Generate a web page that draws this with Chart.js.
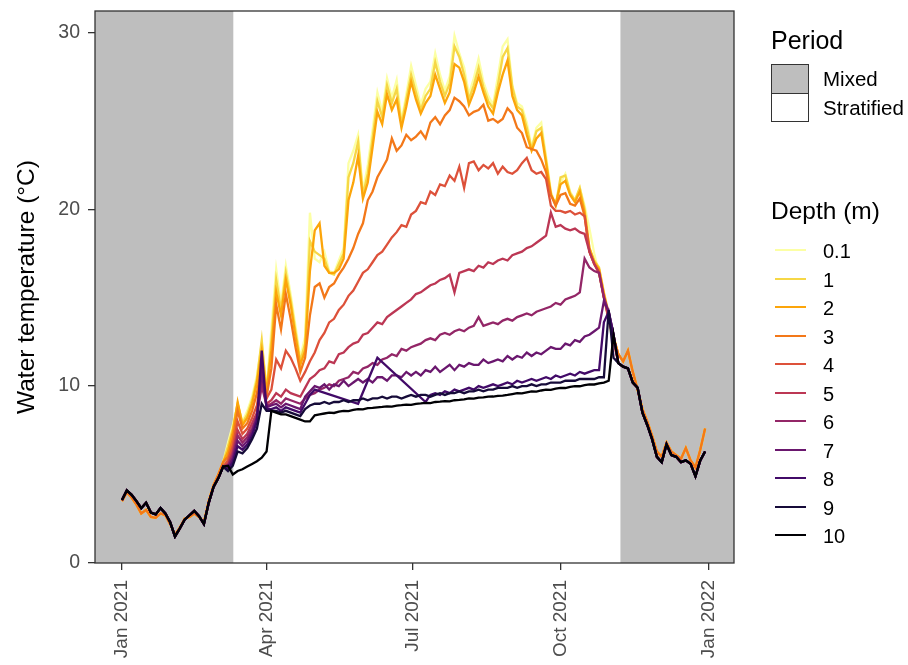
<!DOCTYPE html>
<html>
<head>
<meta charset="utf-8">
<script src="https://cdn.jsdelivr.net/npm/chart.js@4.4.1/dist/chart.umd.min.js"></script>
<style>
  html, body { margin: 0; padding: 0; background: #fff; }
  #wrap { position: relative; width: 908px; height: 665px; font-family: "Liberation Sans", Arial, Helvetica, sans-serif; }
  #chart { position: absolute; left: 0; top: 0; }
  .lg { position: absolute; color: #000; white-space: nowrap; line-height: 1; transform: translateY(-50%); }
  .key { position: absolute; box-sizing: border-box; }
</style>
</head>
<body>
<div id="wrap">
  <canvas id="chart" width="908" height="665"></canvas>
  <div id="legend"></div>
</div>
<script>
// depth series, legend and axis data
const depthLabels = ['0.1', '1', '2', '3', '4', '5', '6', '7', '8', '9', '10'];
const depthColours = ['#FCFFA4', '#F6D746', '#FCA50A', '#F37819', '#DD513A', '#BC3754',
                      '#932667', '#6A176E', '#420A68', '#160B39', '#000004'];
const tickDays = [0, 90, 181, 273, 365];
const tickLabels = ['Jan 2021', 'Apr 2021', 'Jul 2021', 'Oct 2021', 'Jan 2022'];
const yTicks = [0, 10, 20, 30];
const periodLabels = ['Mixed', 'Stratified'];
// mixed periods in days since 1 Jan 2021
const mixedPeriods = [[-17, 69.3], [310.3, 382]];

// readings every 3 days: days 0-63 (winter), 66-306 (stratified), 309-363 (autumn)
const winterSurface = [3.5, 4.0, 3.7, 3.3, 2.8, 3.0, 2.6, 2.55, 2.8, 2.7, 2.2, 1.6, 2.0, 2.5, 2.6, 2.8, 2.6, 2.3, 3.5, 4.4, 5.0, 5.7];
const winterDeep = [3.56, 4.1, 3.85, 3.5, 3.1, 3.4, 2.85, 2.75, 3.1, 2.8, 2.3, 1.5, 1.95, 2.45, 2.7, 2.95, 2.65, 2.2, 3.4, 4.3, 4.8, 5.45];
const autumnSurface = [11.8, 11.4, 12.0, 10.8, 9.8, 8.7, 8.0, 7.2, 6.3, 6.0, 6.8, 6.3, 6.1, 5.9, 6.5, 5.8, 5.4, 6.4, 7.6];
const autumnDeep = [11.3, 11.1, 11.0, 10.2, 9.9, 8.5, 7.8, 7.0, 6.0, 5.7, 6.7, 6.1, 6.0, 5.7, 5.8, 5.6, 4.9, 5.8, 6.3];

const strat01 = [6.8, 7.8, 9.0, 8.0, 8.6, 9.4, 10.6, 12.4, 9.8, 13.2,
  16.6, 14.6, 16.8, 15.2, 13.4, 11.6, 12.8, 19.8, 17.2, 17.0,
  17.6, 16.5, 16.4, 17.1, 17.8, 22.6, 23.3, 24.2, 21.0, 22.5,
  24.5, 26.6, 25.5, 27.4, 26.3, 27.3, 25.0, 26.5, 28.1, 27.0,
  25.9, 26.8, 27.2, 28.8, 27.6, 26.7, 27.5, 29.8, 28.8, 28.0,
  26.5, 27.4, 28.5, 27.2, 26.4, 25.9, 27.5, 29.2, 29.6, 27.0,
  26.0, 25.8, 24.9, 23.5, 24.6, 24.9, 23.0, 21.0, 20.2, 21.5,
  22.0, 21.0, 20.5, 21.2, 20.2, 18.9, 17.5, 16.3, 15.0, 13.6,
  12.4];
const strat1 = [6.6, 7.6, 9.0, 7.9, 8.4, 9.2, 10.4, 12.6, 9.7, 12.6,
  16.0, 14.3, 16.4, 14.9, 13.1, 11.4, 12.4, 18.2, 17.6, 17.4,
  17.2, 16.4, 16.3, 16.9, 17.5, 21.8, 22.6, 23.8, 20.8, 22.0,
  24.0, 26.1, 25.2, 27.0, 26.0, 26.8, 24.8, 26.2, 27.6, 26.6,
  25.6, 26.4, 26.8, 28.3, 27.2, 26.4, 27.1, 29.2, 28.6, 27.6,
  26.2, 27.0, 28.0, 26.9, 26.1, 25.7, 27.0, 28.6, 29.1, 26.9,
  25.8, 25.6, 24.6, 23.4, 24.4, 24.6, 22.8, 20.9, 20.2, 21.8,
  21.9, 20.9, 20.5, 21.2, 20.0, 17.8, 17.1, 16.7, 15.3, 14.1,
  12.8];
const strat2 = [6.3, 7.4, 9.1, 7.8, 8.2, 9.0, 10.2, 12.0, 9.6, 12.0,
  15.3, 14.0, 16.0, 14.6, 12.8, 11.2, 12.0, 16.5, 18.8, 19.2,
  16.8, 16.4, 16.4, 16.6, 17.2, 20.5, 21.5, 23.0, 20.6, 21.5,
  23.5, 25.5, 24.8, 26.5, 25.6, 26.2, 24.6, 25.8, 27.2, 26.2,
  25.4, 26.0, 26.4, 27.6, 26.8, 26.0, 26.6, 28.2, 28.0, 27.2,
  25.9, 26.6, 27.5, 26.6, 25.8, 25.4, 26.6, 27.6, 28.4, 26.4,
  25.6, 25.3, 24.2, 23.3, 24.0, 24.3, 22.6, 20.8, 20.3, 21.4,
  21.6, 20.8, 20.4, 21.0, 19.8, 17.8, 17.0, 16.6, 15.2, 14.0,
  12.8];
const strat3 = [6.0, 7.0, 8.6, 7.6, 7.9, 8.6, 9.6, 11.2, 9.4, 11.0,
  14.6, 13.2, 15.2, 13.8, 12.2, 10.8, 11.6, 14.0, 15.6, 15.8,
  15.0, 15.6, 15.8, 16.3, 16.7, 17.2, 17.8, 18.6, 19.2, 20.5,
  21.0, 21.8, 22.3, 22.8, 24.0, 23.3, 23.6, 24.2, 23.9, 24.1,
  24.4, 24.0, 24.9, 25.2, 24.8, 25.3, 25.6, 26.3, 26.1, 25.8,
  25.3, 25.5, 25.6, 25.9, 25.0, 25.1, 24.9, 25.1, 25.7, 25.4,
  24.6, 24.3, 23.5, 23.4, 23.3, 22.8, 22.1, 20.8, 20.2, 20.8,
  20.9, 20.3, 20.2, 20.6, 19.6, 17.6, 16.9, 16.5, 15.1, 13.9,
  12.7];
const strat4 = [5.8, 6.6, 8.0, 7.3, 7.6, 8.2, 8.9, 10.6, 9.3, 9.8,
  11.5, 11.0, 12.0, 11.6, 11.0, 10.3, 10.8, 11.4, 11.9, 12.6,
  13.0, 13.6, 13.8, 14.3, 14.6, 15.1, 15.4, 15.9, 16.4, 16.6,
  17.0, 17.4, 17.6, 18.0, 18.4, 18.7, 19.1, 19.0, 19.7, 19.9,
  20.4, 20.3, 21.0, 20.8, 21.4, 21.3, 21.9, 21.6, 22.4, 21.2,
  22.6, 22.7, 22.2, 22.5, 22.3, 22.6, 22.0, 22.4, 22.1, 22.0,
  22.2, 22.6, 22.9, 22.2, 22.0, 22.1, 21.7, 20.2, 19.9, 19.9,
  19.8, 19.9, 19.7, 19.8, 19.6, 17.6, 16.9, 16.4, 15.0, 13.8,
  12.6];
const strat5 = [5.6, 6.3, 7.5, 7.0, 7.3, 7.9, 8.5, 10.2, 9.0, 9.2,
  9.6, 9.4, 9.8, 9.6, 9.5, 9.4, 9.9, 10.4, 10.6, 10.9,
  11.0, 11.4, 11.3, 11.8, 11.9, 12.2, 12.4, 12.5, 12.9, 13.0,
  13.3, 13.6, 13.5, 13.9, 14.1, 14.3, 14.5, 14.7, 14.9, 15.2,
  15.3, 15.5, 15.7, 15.8, 16.0, 16.1, 16.3, 15.3, 16.4, 16.5,
  16.6, 16.5, 16.8, 16.7, 17.0, 16.9, 17.1, 17.2, 17.1, 17.4,
  17.5, 17.6, 17.8, 17.9, 18.1, 18.3, 18.5, 19.8, 19.0, 19.1,
  18.9, 18.8, 18.9, 18.7, 18.6, 17.6, 16.9, 16.4, 15.0, 13.8,
  12.6];
const strat6 = [5.5, 6.1, 7.2, 6.8, 7.1, 7.6, 8.3, 10.0, 8.9, 9.0,
  9.2, 9.0, 9.3, 9.2, 9.1, 9.0, 9.3, 9.5, 9.6, 9.8,
  9.9, 10.1, 10.0, 10.3, 10.4, 10.5, 10.8, 10.7, 11.0, 11.1,
  11.3, 11.2, 11.5, 11.6, 11.8, 11.7, 12.1, 12.0, 12.2, 12.3,
  12.4, 12.6, 12.7, 12.6, 12.9, 13.0, 12.9, 13.1, 13.2, 13.1,
  13.3, 13.4, 13.9, 13.4, 13.5, 13.6, 13.5, 13.7, 13.8, 13.7,
  13.9, 14.0, 14.1, 14.0, 14.2, 14.3, 14.4, 14.5, 14.7, 14.6,
  14.9, 15.0, 15.1, 15.3, 17.2, 16.7, 16.5, 16.4, 15.0, 14.2,
  12.9];
const strat7 = [5.4, 5.9, 6.9, 6.6, 6.9, 7.4, 8.2, 10.8, 8.8, 8.9,
  9.0, 8.8, 9.0, 8.9, 8.8, 8.7, 9.4, 9.7, 10.0, 9.9,
  10.1, 9.8, 10.1, 10.0, 10.3, 10.0, 10.2, 10.4, 10.2, 10.4,
  10.2, 10.5, 10.5, 10.3, 10.6, 10.6, 10.5, 10.8, 10.6, 10.8,
  10.6, 10.9, 10.8, 11.1, 10.8, 11.0, 11.2, 10.9, 11.2, 11.1,
  11.3, 11.2, 11.2, 11.5, 11.3, 11.4, 11.5, 11.4, 11.7, 11.5,
  11.7, 11.6, 11.9, 11.7, 11.9, 11.8, 12.0, 12.2, 12.1, 12.1,
  12.4, 12.3, 12.6, 12.5, 12.8, 12.9, 13.1, 13.3, 14.8, 14.2,
  12.9];
// depth 8 logger has gaps, the line is drawn straight across them
const strat8 = [5.3, 5.7, 6.6, 6.4, 6.7, 7.2, 8.0, 12.0, 8.7, 8.7,
  8.8, 8.6, 8.8, 8.7, 8.6, 8.5, 9.0, 9.5, 9.8, null,
  null, null, null, null, null, null, null, 9.0, null, null,
  null, 11.6, null, null, null, null, null, null, null, null,
  null, 9.1, 9.5, 9.6, 9.5, 9.7, 9.6, 9.8, 9.7, 9.8,
  9.9, 9.8, 10.0, 9.9, 10.0, 10.1, 10.0, 10.1, 10.2, 10.1,
  10.3, 10.2, 10.3, 10.4, 10.3, 10.4, 10.5, 10.4, 10.6, 10.5,
  10.6, 10.7, 10.6, 10.8, 10.7, 10.8, 10.9, 10.9, 13.6, 14.2,
  12.9];
const strat9 = [5.2, 5.5, 6.3, 6.2, 6.5, 7.0, 7.6, 9.0, 8.6, 8.6,
  8.6, 8.5, 8.6, 8.5, 8.4, 8.3, 8.7, 8.9, 9.0, 9.0,
  9.1, 9.0, 9.1, 9.1, 9.2, 9.1, 9.2, 9.2, 9.3, 9.2,
  9.3, 9.3, 9.4, 9.3, 9.4, 9.4, 9.3, 9.4, 9.5, 9.4,
  9.5, 9.5, 9.4, 9.5, 9.6, 9.5, 9.6, 9.6, 9.7, 9.6,
  9.7, 9.7, 9.8, 9.7, 9.8, 9.8, 9.9, 9.9, 9.9, 10.0,
  9.9, 10.0, 10.0, 10.1, 10.0, 10.1, 10.1, 10.2, 10.2, 10.2,
  10.3, 10.3, 10.3, 10.4, 10.4, 10.4, 10.4, 10.5, 10.5, 14.3,
  11.6];
const strat10 = [5.5, 5.0, 5.2, 5.3, 5.45, 5.6, 5.75, 5.95, 6.3, 8.6,
  8.5, 8.4, 8.4, 8.3, 8.2, 8.1, 8.0, 8.0, 8.35, 8.4,
  8.45, 8.5, 8.48, 8.55, 8.6, 8.58, 8.65, 8.7, 8.68, 8.75,
  8.77, 8.8, 8.82, 8.85, 8.84, 8.9, 8.92, 8.95, 8.94, 9.0,
  9.02, 9.05, 9.04, 9.1, 9.12, 9.15, 9.14, 9.2, 9.22, 9.25,
  9.3, 9.29, 9.35, 9.36, 9.4, 9.41, 9.45, 9.46, 9.5, 9.55,
  9.6, 9.59, 9.65, 9.7, 9.69, 9.75, 9.8, 9.79, 9.85, 9.9,
  9.89, 9.95, 10.0, 9.99, 10.05, 10.1, 10.09, 10.15, 10.2, 10.3,
  12.9];

const depthSeries = [
  winterSurface.concat(strat01, autumnSurface),
  winterSurface.concat(strat1, autumnSurface),
  winterSurface.concat(strat2, autumnSurface),
  winterSurface.concat(strat3, autumnSurface),
  winterDeep.concat(strat4, autumnDeep),
  winterDeep.concat(strat5, autumnDeep),
  winterDeep.concat(strat6, autumnDeep),
  winterDeep.concat(strat7, autumnDeep),
  winterDeep.concat(strat8, autumnDeep),
  winterDeep.concat(strat9, autumnDeep),
  winterDeep.concat(strat10, autumnDeep)
];
const sampleDays = [];
for (let d = 0; d <= 363; d += 3) sampleDays.push(d);

const FONT = '"Liberation Sans", Arial, Helvetica, sans-serif';
Chart.defaults.font.family = FONT;

// grey rectangles for the mixed periods + panel border
const periodShading = {
  id: 'periodShading',
  beforeDatasetsDraw(chart) {
    const { ctx, chartArea: a, scales: { x } } = chart;
    ctx.save();
    ctx.fillStyle = '#BEBEBE';
    mixedPeriods.forEach(function (p) {
      const x0 = Math.max(a.left, x.getPixelForValue(p[0]));
      const x1 = Math.min(a.right, x.getPixelForValue(p[1]));
      ctx.fillRect(x0, a.top, x1 - x0, a.bottom - a.top);
    });
    ctx.restore();
  },
  afterDraw(chart) {
    const { ctx, chartArea: a } = chart;
    ctx.save();
    ctx.strokeStyle = '#333333';
    ctx.lineWidth = 1.3;
    ctx.strokeRect(a.left, a.top, a.right - a.left, a.bottom - a.top);
    ctx.restore();
  }
};

const datasets = depthLabels.map(function (lab, k) {
  return {
    label: lab,
    data: sampleDays.map(function (d, i) { return { x: d, y: depthSeries[k][i] }; }),
    borderColor: depthColours[k],
    borderWidth: 2.3,
    pointRadius: 0,
    fill: false,
    spanGaps: true,
    order: depthLabels.length - 1 - k
  };
});

const axisGrid = { display: true, drawOnChartArea: false, drawTicks: true, tickLength: 7, color: '#333333', lineWidth: 1.3 };

new Chart(document.getElementById('chart'), {
  type: 'line',
  data: { datasets: datasets },
  options: {
    responsive: false,
    animation: false,
    events: [],
    layout: { padding: { left: 0, top: 11, right: 174, bottom: 0 } },
    plugins: { legend: { display: false }, tooltip: { enabled: false } },
    scales: {
      x: {
        type: 'linear', min: -16.8, max: 381,
        afterBuildTicks: function (s) { s.ticks = tickDays.map(function (v) { return { value: v }; }); },
        afterFit: function (s) { s.height = 102; s.paddingLeft = 0; s.paddingRight = 0; },
        grid: axisGrid,
        border: { display: false },
        ticks: {
          autoSkip: false, minRotation: 90, maxRotation: 90, padding: 10,
          color: '#4D4D4D', font: { size: 19 },
          callback: function (v) { return tickLabels[tickDays.indexOf(v)]; }
        }
      },
      y: {
        min: 0, max: 31.2,
        afterBuildTicks: function (s) { s.ticks = yTicks.map(function (v) { return { value: v }; }); },
        afterFit: function (s) { s.width = 95; s.paddingTop = 0; s.paddingBottom = 0; },
        grid: axisGrid,
        border: { display: false },
        ticks: { padding: 8, color: '#4D4D4D', font: { size: 19.5 } },
        title: {
          display: true, text: 'Water temperature (°C)', color: '#000000',
          font: { size: 24.5 }, padding: { top: 13, bottom: 0 }
        }
      }
    }
  },
  plugins: [periodShading]
});

// legend (ggplot style, on the right)
const legend = document.getElementById('legend');
function addText(txt, left, cy, size) {
  const el = document.createElement('div');
  el.className = 'lg';
  el.textContent = txt;
  el.style.left = left + 'px';
  el.style.top = cy + 'px';
  el.style.fontSize = size + 'px';
  legend.appendChild(el);
}
function addKey(left, top, w, h, css) {
  const el = document.createElement('div');
  el.className = 'key';
  el.style.left = left + 'px';
  el.style.top = top + 'px';
  el.style.width = w + 'px';
  el.style.height = h + 'px';
  Object.assign(el.style, css);
  legend.appendChild(el);
}
addText('Period', 771, 40, 25);
['#BEBEBE', '#FFFFFF'].forEach(function (c, k) {
  addKey(771, 64 + k * 28.5, 38, 29.5, { background: c, border: '1.3px solid #333333' });
  addText(periodLabels[k], 823, 79 + k * 28.5, 20.5);
});
addText('Depth (m)', 771, 211, 24.5);
depthLabels.forEach(function (lab, k) {
  const cy = 250 + k * 28.5;
  addKey(775, cy - 1, 31, 2.4, { background: depthColours[k] });
  addText(lab, 823, cy + 1, 20);
});
</script>
</body>
</html>
